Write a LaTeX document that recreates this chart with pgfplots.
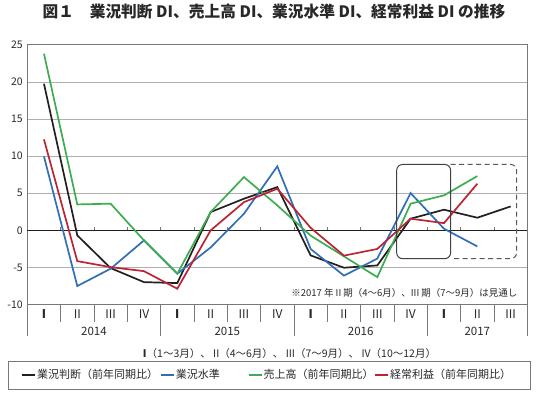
\documentclass[border=0pt]{standalone}
\usepackage{pgfplots}
\pgfplotsset{compat=1.18}
\usepackage{fontspec}
\setmainfont{Noto Sans CJK JP}
\definecolor{cblack}{RGB}{35,31,32}
\definecolor{cblue}{RGB}{48,110,184}
\definecolor{cgreen}{RGB}{62,172,80}
\definecolor{cred}{RGB}{186,36,52}
\definecolor{cgrid}{RGB}{175,175,175}
\definecolor{cframe}{RGB}{120,120,120}
\definecolor{ctext}{RGB}{40,40,40}
\begin{document}
\begin{tikzpicture}[x=1bp,y=1bp]
\useasboundingbox (0,0) rectangle (540,395);
\begin{axis}[
  at={(27.3bp,90.4bp)}, anchor=south west,
  scale only axis, width=500bp, height=259.7bp,
  xmin=-0.5, xmax=14.5, ymin=-10, ymax=25,
  clip=false,
  axis line style={cframe, line width=0.8bp},
  ytick={-10,-5,0,5,10,15,20,25},
  yticklabels={-10,-5,0,5,10,15,20,25},
  ymajorgrids, grid style={cgrid, line width=0.9bp},
  major tick length=0pt,
  yticklabel style={font=\fontsize{10.5bp}{12bp}\selectfont, text=ctext, xshift=-1bp},
  xtick={0,...,14},
  xticklabels={\textbf{I},II,III,IV,\textbf{I},II,III,IV,\textbf{I},II,III,IV,\textbf{I},II,III},
  xticklabel style={anchor=center, yshift=-9bp, font=\fontsize{12bp}{14bp}\selectfont, text=ctext},
  extra x ticks={1.5,5.5,9.5,13},
  extra x tick labels={2014,2015,2016,2017},
  extra x tick style={xticklabel style={yshift=-18.1bp, font=\fontsize{11.5bp}{14bp}\selectfont}},
  legend columns=4,
  legend style={draw=none, fill=none, at={(0.479,-0.271)}, anchor=center,
    font=\fontsize{11bp}{13bp}\selectfont, text=ctext,
    /tikz/every even column/.style={column sep=0bp},
    nodes={inner xsep=1bp, inner ysep=0bp}},
  legend image code/.code={\draw[#1] (0bp,0bp) -- (13bp,0bp);},
  every axis plot/.append style={line width=1.7bp, mark=none},
]
% zero line and small ticks
\draw[cblack, line width=1.6bp] (axis cs:-0.5,0) -- (axis cs:14.5,0);
\pgfplotsinvokeforeach{0.5,1.5,...,13.5}{
  \draw[cframe, line width=0.6bp] (axis cs:#1,0) -- ++(0bp,3bp);
}
% separators in the category area
\pgfplotsinvokeforeach{0.5,1.5,2.5,4.5,5.5,6.5,8.5,9.5,10.5,12.5,13.5}{
  \draw[cframe, line width=0.7bp] (axis cs:#1,-10) -- (axis cs:#1,-12.34);
}
\pgfplotsinvokeforeach{-0.5,3.5,7.5,11.5,14.5}{
  \draw[cframe, line width=0.7bp] (axis cs:#1,-10) -- (axis cs:#1,-14.23);
}

\addplot[cblack] coordinates {
(0,19.77) (1,-0.67) (2,-5.08) (3,-6.97) (4,-7.10) (5,2.47) (6,4.27) (7,5.84)
(8,-3.37) (9,-5.03) (10,-4.72) (11,1.58) (12,2.79) (13,1.71) (14,3.23)};
\addlegendentry{業況判断（前年同期比）\rule{1bp}{0pt}}
\addplot[cblue] coordinates {
(0,9.97) (1,-7.5) (2,-5.16) (3,-1.35) (4,-5.84) (5,-2.3) (6,2.25) (7,8.63)
(8,-2.5) (9,-6.1) (10,-3.8) (11,5.03) (12,0.23) (13,-2.16)};
\addlegendentry{業況水準\rule{27bp}{0pt}}
\addplot[cgreen] coordinates {
(0,23.81) (1,3.5) (2,3.6) (3,-1.35) (4,-5.84) (5,2.47) (6,7.18) (7,3.37)
(8,-0.7) (9,-3.5) (10,-6.3) (11,3.6) (12,4.72) (13,7.32)};
\addlegendentry{売上高（前年同期比）}
\addplot[cred] coordinates {
(0,12.26) (1,-4.14) (2,-4.95) (3,-5.49) (4,-7.86) (5,0.0) (6,3.81) (7,5.62)
(8,0.35) (9,-3.4) (10,-2.5) (11,1.58) (12,0.98) (13,6.29)};
\addlegendentry{経常利益（前年同期比）}

% forecast boxes
\draw[cblack!85, line width=1bp, rounded corners=6bp] (axis cs:10.58,8.89) rectangle (axis cs:12.20,-3.81);
\draw[black!65, line width=1bp, dash pattern=on 5bp off 3.5bp, rounded corners=6bp]
  (axis cs:12.20,8.89) -- (axis cs:14.18,8.89) -- (axis cs:14.18,-3.81) -- (axis cs:12.20,-3.81);
\end{axis}
% title
\node[font=\fontsize{15.7bp}{18bp}\selectfont\bfseries, text=ctext] at (274,383.5)
  {図１\hspace{1em}業況判断 DI、売上高 DI、業況水準 DI、経常利益 DI の推移};
% note
\node[anchor=east, font=\fontsize{9.5bp}{11bp}\selectfont, text=ctext] at (521,101.7)
  {※2017 年 II 期（4〜6月）、III 期（7〜9月）は見通し};
% quarter explanation
\node[font=\fontsize{10.5bp}{12bp}\selectfont, text=ctext] at (289.5,41)
  {\textbf{I}（1〜3月）、 II（4〜6月）、 III（7〜9月）、 IV（10〜12月）};
% legend frame
\draw[cframe, line width=0.8bp] (8.3,6) rectangle (530,33.5);
\end{tikzpicture}
\end{document}
